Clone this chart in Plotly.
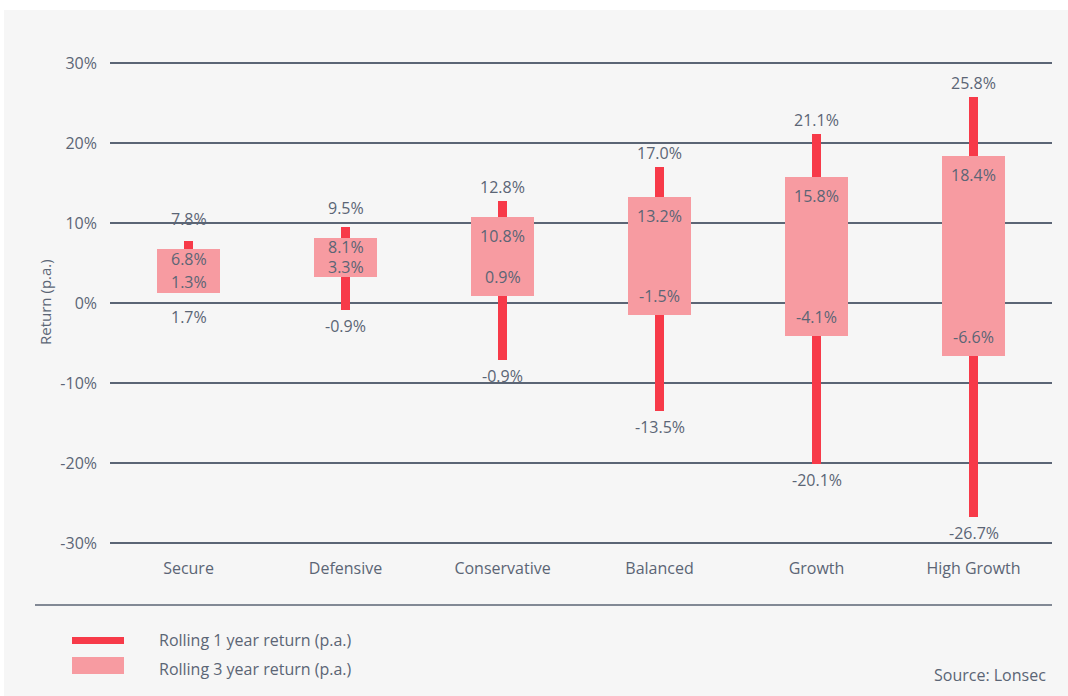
import plotly.graph_objects as go

categories = ["Secure", "Defensive", "Conservative", "Balanced", "Growth", "High Growth"]
one_yr_high = [7.8, 9.5, 12.8, 17.0, 21.1, 25.8]
one_yr_low = [1.7, -0.9, -7.1, -13.5, -20.1, -26.7]
one_yr_high_labels = ["7.8%", "9.5%", "12.8%", "17.0%", "21.1%", "25.8%"]
one_yr_low_labels = ["1.7%", "-0.9%", "-0.9%", "-13.5%", "-20.1%", "-26.7%"]
three_yr_high = [6.8, 8.1, 10.8, 13.2, 15.8, 18.4]
three_yr_low = [1.3, 3.3, 0.9, -1.5, -4.1, -6.6]
three_yr_high_labels = ["6.8%", "8.1%", "10.8%", "13.2%", "15.8%", "18.4%"]
three_yr_low_labels = ["1.3%", "3.3%", "0.9%", "-1.5%", "-4.1%", "-6.6%"]
y_ticks = [-30, -20, -10, 0, 10, 20, 30]
y_tick_labels = ["-30%", "-20%", "-10%", "0%", "10%", "20%", "30%"]

RED = "#f73a49"
PINK = "#f79ba1"
TXT = "#5b6575"
GRID = "#5b6575"
BG = "#f6f6f6"
FONT = "Open Sans"
FS = 16

W, H = 1068, 696
ML, MR, MT, MB = 110, 16, 55, 145
YR = [-31, 31]
plot_h = H - MT - MB
plot_w = W - ML - MR
px_per_unit = plot_h / (YR[1] - YR[0])

def px_x(p):
    return (p - ML) / plot_w

def px_y(p):
    return (H - MB - p) / plot_h

fig = go.Figure()
fig.add_trace(go.Bar(
    x=categories,
    y=[h - l for h, l in zip(one_yr_high, one_yr_low)],
    base=one_yr_low, width=0.052, marker=dict(color=RED, line=dict(width=0)),
    hoverinfo="skip", showlegend=False))
fig.add_trace(go.Bar(
    x=categories,
    y=[h - l for h, l in zip(three_yr_high, three_yr_low)],
    base=three_yr_low, width=0.4, marker=dict(color=PINK, line=dict(width=0)),
    hoverinfo="skip", showlegend=False))

def outer_shift(gap_units):
    gap = gap_units * px_per_unit
    return min(28, max(14, 30 - gap))

ann = []
tf = dict(family=FONT, size=FS, color=TXT)
for i, c in enumerate(categories):
    ann.append(dict(x=c, y=one_yr_high[i], xref="x", yref="y", text=one_yr_high_labels[i],
                    showarrow=False, yanchor="middle",
                    yshift=outer_shift(one_yr_high[i] - three_yr_high[i]), font=tf))
    ann.append(dict(x=c, y=one_yr_low[i], xref="x", yref="y", text=one_yr_low_labels[i],
                    showarrow=False, yanchor="middle",
                    yshift=-max(16, outer_shift(three_yr_low[i] - one_yr_low[i])), font=tf))
    box_px = (three_yr_high[i] - three_yr_low[i]) * px_per_unit
    inset = min(19, box_px * 0.24)
    ann.append(dict(x=c, y=three_yr_high[i], xref="x", yref="y", text=three_yr_high_labels[i],
                    showarrow=False, yanchor="middle", yshift=-inset, font=tf))
    ann.append(dict(x=c, y=three_yr_low[i], xref="x", yref="y", text=three_yr_low_labels[i],
                    showarrow=False, yanchor="middle", yshift=inset, font=tf))

# axis title
ann.append(dict(x=px_x(45), y=px_y(302), xref="paper", yref="paper", text="Return (p.a.)",
                textangle=-90, showarrow=False, xanchor="center", yanchor="middle",
                font=dict(family=FONT, size=15, color=TXT)))
# legend texts
ann.append(dict(x=px_x(157), y=px_y(640), xref="paper", yref="paper", xanchor="left", yanchor="middle",
                text="Rolling 1 year return (p.a.)", showarrow=False, font=tf))
ann.append(dict(x=px_x(157), y=px_y(669), xref="paper", yref="paper", xanchor="left", yanchor="middle",
                text="Rolling 3 year return (p.a.)", showarrow=False, font=tf))
ann.append(dict(x=px_x(1048), y=px_y(675), xref="paper", yref="paper", xanchor="right", yanchor="middle",
                text="Source: Lonsec", showarrow=False, font=tf))

shapes = [
    dict(type="rect", xref="paper", yref="paper", x0=px_x(-5), x1=px_x(W + 5), y0=px_y(10), y1=px_y(-5),
         fillcolor="white", line=dict(width=0), layer="below"),
    dict(type="rect", xref="paper", yref="paper", x0=px_x(-5), x1=px_x(4), y0=px_y(H + 5), y1=px_y(-5),
         fillcolor="white", line=dict(width=0), layer="below"),
    dict(type="line", xref="paper", yref="paper", x0=px_x(35), x1=px_x(1052), y0=px_y(605), y1=px_y(605),
         line=dict(color=GRID, width=1.3)),
    dict(type="rect", xref="paper", yref="paper", x0=px_x(72), x1=px_x(124), y0=px_y(644), y1=px_y(637),
         fillcolor=RED, line=dict(width=0)),
    dict(type="rect", xref="paper", yref="paper", x0=px_x(72), x1=px_x(124), y0=px_y(674), y1=px_y(657),
         fillcolor=PINK, line=dict(width=0)),
]

fig.update_layout(
    width=W, height=H,
    margin=dict(l=ML, r=MR, t=MT, b=MB, pad=0),
    paper_bgcolor=BG, plot_bgcolor=BG,
    barmode="overlay", bargap=0,
    showlegend=False,
    annotations=ann, shapes=shapes,
    font=dict(family=FONT, size=FS, color=TXT),
    xaxis=dict(showgrid=False, zeroline=False, showline=False, ticks="",
               tickfont=dict(family=FONT, size=FS, color=TXT), ticklabelstandoff=6,
               fixedrange=True),
    yaxis=dict(range=YR, tickvals=y_ticks, ticktext=y_tick_labels, showgrid=True,
               gridcolor=GRID, gridwidth=2, zeroline=False, showline=False, ticks="",
               tickfont=dict(family=FONT, size=FS, color=TXT), ticklabelstandoff=12,
               fixedrange=True),
)

fig.write_html("out.html", config={"displayModeBar": False})
